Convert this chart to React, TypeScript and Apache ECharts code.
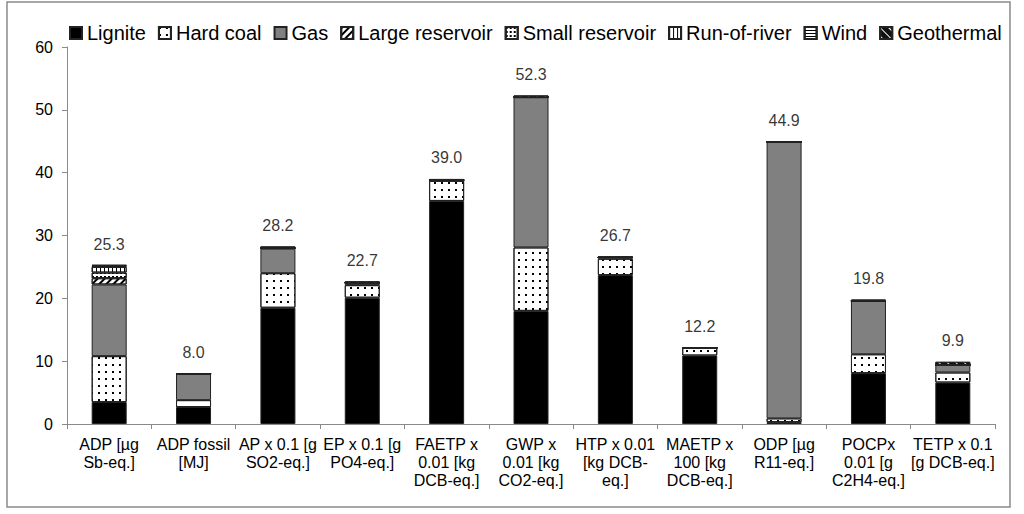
import React, { useEffect, useRef } from "react";
import * as echarts from "echarts";

const categories = [
  "ADP [µg\nSb-eq.]",
  "ADP fossil\n[MJ]",
  "AP x 0.1 [g\nSO2-eq.]",
  "EP x 0.1 [g\nPO4-eq.]",
  "FAETP x\n0.01 [kg\nDCB-eq.]",
  "GWP x\n0.01 [kg\nCO2-eq.]",
  "HTP x 0.01\n[kg DCB-\neq.]",
  "MAETP x\n100 [kg\nDCB-eq.]",
  "ODP [µg\nR11-eq.]",
  "POCPx\n0.01 [g\nC2H4-eq.]",
  "TETP x 0.1\n[g DCB-eq.]",
];

const lignite = [3.5, 2.7, 18.5, 20.1, 35.5, 18.0, 23.7, 10.9, 0.3, 8.1, 6.6];
const hardCoal = [7.3, 1.1, 5.5, 2.0, 3.2, 10.1, 2.6, 1.2, 0.6, 3.0, 1.6];
const gas = [11.4, 4.2, 3.9, 0.4, 0.1, 23.9, 0.2, 0, 44.0, 8.5, 1.2];
const largeReservoir = [1.0, 0, 0.1, 0, 0, 0, 0, 0, 0, 0, 0];
const smallReservoir = [0.9, 0, 0, 0, 0, 0, 0, 0, 0, 0, 0];
const runOfRiver = [0.9, 0, 0, 0, 0, 0, 0, 0, 0, 0, 0];
const wind = [0.2, 0, 0.1, 0, 0, 0, 0, 0, 0, 0, 0];
const geothermal = [0.1, 0, 0.1, 0.2, 0.2, 0.3, 0.2, 0.1, 0, 0.2, 0.5];

const yTicks = [0, 10, 20, 30, 40, 50, 60];

const FONT = "'Liberation Sans', Arial, sans-serif";

export default function App() {
  const ref = useRef<HTMLDivElement>(null);
  useEffect(() => {
    document.body.style.margin = "0";
    if (!ref.current) return;
    const chart = echarts.init(ref.current, null, { renderer: "svg" });

    const seriesDefs = [
      { name: "Lignite", data: lignite, color: "#000000", decal: null },
      {
        name: "Hard coal",
        data: hardCoal,
        color: "#ffffff",
        decal: { symbol: "rect", color: "#000", dashArrayX: [1.2, 5], dashArrayY: [1.2, 4.5], symbolSize: 1 },
      },
      { name: "Gas", data: gas, color: "#808080", decal: null },
      {
        name: "Large reservoir",
        data: largeReservoir,
        color: "#ffffff",
        decal: { symbol: "rect", color: "#000", dashArrayX: [1, 0], dashArrayY: [1.5, 2.5], rotation: -Math.PI / 4, symbolSize: 1 },
      },
      {
        name: "Small reservoir",
        data: smallReservoir,
        color: "#ffffff",
        decal: { symbol: "rect", color: "#000", dashArrayX: [2, 2], dashArrayY: [2, 2], symbolSize: 1 },
      },
      {
        name: "Run-of-river",
        data: runOfRiver,
        color: "#ffffff",
        decal: { symbol: "rect", color: "#000", dashArrayX: [1, 3], dashArrayY: [1, 0], symbolSize: 1 },
      },
      {
        name: "Wind",
        data: wind,
        color: "#ffffff",
        decal: { symbol: "rect", color: "#000", dashArrayX: [1, 0], dashArrayY: [1, 2], symbolSize: 1 },
      },
      {
        name: "Geothermal",
        data: geothermal,
        color: "#111111",
        decal: { symbol: "rect", color: "#ffffff", dashArrayX: [1, 0], dashArrayY: [1, 5], rotation: Math.PI / 4, symbolSize: 1 },
      },
    ];

    const totals = categories.map((_, i) =>
      seriesDefs.reduce((s, d) => s + d.data[i], 0)
    );

    const series: any[] = seriesDefs.map((d) => ({
      name: d.name,
      type: "bar",
      stack: "total",
      barWidth: 35,
      data: d.data,
      itemStyle: {
        color: d.color,
        borderColor: "#222",
        borderWidth: 1,
        ...(d.decal ? { decal: d.decal } : {}),
      },
    }));

    series.push({
      name: "Total",
      type: "scatter",
      symbolSize: 0,
      silent: true,
      data: totals,
      z: 10,
      label: {
        show: true,
        position: "top",
        distance: 13,
        formatter: (p: any) => Number(p.value).toFixed(1),
        color: "#000",
        fontSize: 16,
        fontFamily: FONT,
      },
    });

    chart.setOption({
      animation: false,
      backgroundColor: "#ffffff",
      textStyle: { fontFamily: FONT },
      legend: {
        data: seriesDefs.map((d) => d.name),
        top: 18,
        left: 64,
        itemWidth: 12,
        itemHeight: 12,
        itemGap: 12,
        icon: "rect",
        textStyle: { fontSize: 20, color: "#000", fontFamily: FONT },
      },
      grid: { left: 67, right: 29, top: 47, bottom: 90, containLabel: false },
      xAxis: {
        type: "category",
        data: categories,
        axisLine: { lineStyle: { color: "#8a8a8a", width: 1 } },
        axisTick: { show: true, length: 5, lineStyle: { color: "#8a8a8a" } },
        axisLabel: {
          interval: 0,
          color: "#000",
          fontSize: 16,
          lineHeight: 18,
          margin: 11,
          fontFamily: FONT,
        },
      },
      yAxis: {
        type: "value",
        min: 0,
        max: 60,
        interval: 10,
        splitLine: { show: false },
        axisLine: { show: true, lineStyle: { color: "#8a8a8a", width: 1 } },
        axisTick: { show: true, length: 5, lineStyle: { color: "#8a8a8a" } },
        axisLabel: {
          color: "#000",
          fontSize: 16,
          margin: 14,
          fontFamily: FONT,
          formatter: (v: number) => (yTicks.includes(v) ? String(v) : ""),
        },
      },
      graphic: [
        {
          type: "rect",
          shape: { x: 7, y: 2, width: 1003, height: 505 },
          style: { fill: "none", stroke: "#8a8a8a", lineWidth: 1.5 },
          silent: true,
          z: -1,
        },
      ],
      series,
    });

    return () => chart.dispose();
  }, []);

  return <div ref={ref} style={{ width: 1024, height: 514 }} />;
}
